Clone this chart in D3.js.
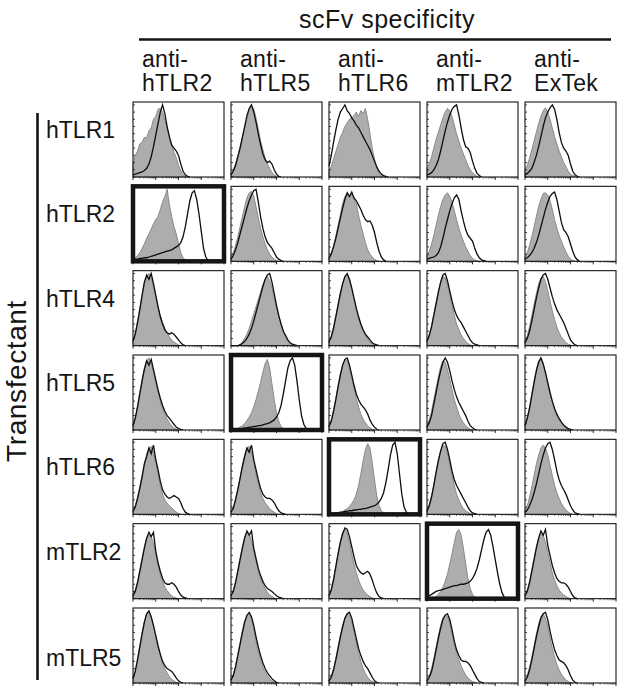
<!DOCTYPE html>
<html><head><meta charset="utf-8">
<script src="https://cdn.jsdelivr.net/npm/d3@7"></script>
<style>html,body{margin:0;padding:0;background:#fff;} svg{display:block;font-family:"Liberation Sans",Arial,Helvetica,sans-serif;}</style>
</head><body><svg id="c" width="624" height="694"></svg>
<script>
// ---------- labels ----------
const headerTitle = "scFv specificity";
const colLabels = ["hTLR2","hTLR5","hTLR6","mTLR2","ExTek"];
const rowLabels = ["hTLR1","hTLR2","hTLR4","hTLR5","hTLR6","mTLR2","mTLR5"];
const axisTitle = "Transfectant";
const highlighted = [["hTLR2","hTLR2"],["hTLR5","hTLR5"],["hTLR6","hTLR6"],["mTLR2","mTLR2"]]; // [transfectant, scFv]

// ---------- histogram heights (% of max), bin k = 10^(k/10) channel ----------
// row hTLR1
const g11=[18,30,36,46,48,55,54,64,68,80,84,94,95,90,78,68,54,46,34,27,16,9,3,1];
const b11=[3,4,5,6,7,9,12,18,28,42,58,74,90,100,88,70,56,44,40,36,30,18,8,3,1];
const g12=[5,10,18,30,42,55,68,80,92,98,95,82,66,50,38,26,18,12,6,3,1];
const b12=[3,8,16,28,40,55,70,85,95,100,90,76,60,45,32,24,20,22,18,10,4,1];
const g13=[8,15,25,35,45,55,62,70,75,80,82,85,90,84,92,88,95,80,60,40,25,12,5,2,1];
const b13=[15,30,48,65,80,90,95,100,92,88,82,78,72,68,62,56,50,44,38,30,22,14,8,4,2,1];
const g14=[12,18,28,40,52,62,72,82,90,95,92,84,72,60,50,40,32,24,16,10,6,3,1];
const b14=[3,4,6,10,16,24,36,50,64,76,86,94,98,100,86,68,52,42,40,34,22,12,5,2];
const g15=[10,16,26,38,50,62,74,84,92,96,90,80,68,56,46,36,28,20,14,8,4,2,1];
const b15=[3,5,8,12,20,30,42,56,70,82,90,96,100,94,80,62,48,40,36,30,18,8,3,1];
// row hTLR2
const g21=[3,5,8,12,18,24,32,38,45,52,58,62,72,82,90,100,78,62,48,38,25,12,5,2];
const b21=[2,3,3,4,4,5,5,6,7,8,9,10,11,12,13,14,15,16,18,20,22,26,34,48,66,84,95,98,86,66,42,18,6,1];
const g22=[6,12,22,34,48,62,76,88,95,97,90,76,60,46,34,24,16,10,6,3,1];
const b22=[3,8,16,26,38,50,62,74,84,92,98,100,82,62,46,34,26,22,18,12,6,3,1];
const g23=[5,12,22,35,50,65,80,90,94,88,95,86,80,64,50,38,26,16,10,6,3,1];
const b23=[4,10,20,32,46,60,74,86,95,90,96,88,84,78,72,64,58,55,56,50,40,26,14,6,2];
const g24=[8,14,24,36,50,64,76,86,92,95,90,82,70,58,46,36,28,20,14,8,4,2,1];
const b24=[3,4,5,6,8,12,20,32,46,58,70,80,88,92,86,70,56,44,36,32,28,18,10,5,2,1];
const g25=[6,12,22,34,48,62,76,86,94,95,92,84,72,58,46,36,28,20,13,7,3,1];
const b25=[3,5,8,12,18,26,36,48,60,72,82,90,94,96,86,70,54,44,40,34,24,14,6,2];
// row hTLR4
const g31=[8,18,34,52,70,86,96,100,94,82,68,54,42,32,24,17,12,8,5,3,1];
const b31=[6,16,32,50,70,88,98,92,100,86,70,54,40,30,22,18,16,18,16,12,8,4,1];
const g32=[0,0,0,0,2,5,10,16,24,34,44,54,64,74,84,92,96,90,80,66,52,40,30,20,12,6,3,1];
const b32=[0,0,0,0,1,3,6,10,16,24,34,46,58,70,82,92,98,100,88,72,56,42,30,20,14,8,4,2,1];
const g33=[6,14,26,42,58,74,86,96,98,90,78,64,50,38,28,20,14,9,5,3,1];
const b33=[5,12,24,40,56,72,86,96,100,92,80,66,52,40,30,22,16,12,8,4,2,1];
const g34=[8,16,28,44,60,76,88,96,94,84,70,56,42,30,22,15,10,6,3,1];
const b34=[6,14,26,42,58,74,88,98,100,90,76,62,50,42,36,32,26,20,14,8,4,2,1];
const g35=[6,14,26,42,58,72,86,94,96,88,76,62,48,36,26,18,12,8,4,2,1];
const b35=[4,10,20,34,50,66,80,92,98,100,92,80,68,58,50,44,38,32,24,16,8,4,1];
// row hTLR5
const g41=[8,18,34,52,70,86,96,100,92,80,66,52,40,30,22,15,10,6,3,1];
const b41=[6,16,32,50,68,84,96,90,98,84,70,56,44,34,26,20,16,12,8,4,2,1];
const g42=[0,0,1,2,4,6,9,13,18,24,32,42,54,66,80,92,98,86,64,42,24,12,5,2,1];
const b42=[0,0,1,1,2,2,3,3,4,4,5,5,6,6,7,8,9,10,12,14,18,24,34,50,68,86,96,100,90,68,42,20,8,2];
const g43=[6,14,28,44,62,78,90,98,96,86,72,58,44,32,22,15,10,6,3,1];
const b43=[5,12,26,42,60,76,90,98,100,90,76,62,50,42,36,32,28,22,14,8,4,1];
const g44=[6,14,26,42,58,74,88,96,94,84,70,56,42,32,22,15,10,6,3,1];
const b44=[4,10,20,36,52,68,82,94,100,94,82,68,56,46,38,32,26,20,12,6,3,1];
const g45=[8,18,32,50,68,84,96,98,90,78,64,50,38,28,20,14,9,5,3,1];
const b45=[6,16,30,48,66,82,94,100,92,80,66,52,40,30,22,16,11,7,4,2,1];
// row hTLR6
const g51=[5,12,24,38,54,70,84,92,94,86,72,56,40,28,20,15,12,9,6,3,1];
const b51=[4,10,22,36,52,70,80,92,84,96,76,62,46,34,28,24,22,24,26,24,22,16,8,3,1];
const g52=[4,10,22,36,52,68,82,92,94,86,72,56,42,30,22,16,12,8,5,3,1];
const b52=[3,8,20,34,50,66,80,92,86,96,76,62,48,36,28,24,22,22,20,16,10,5,2,1];
const g53=[0,0,0,1,2,3,4,6,8,11,15,20,28,40,56,74,90,98,92,72,48,26,12,5,2,1];
const b53=[0,1,1,2,2,3,3,4,4,5,5,6,6,7,7,8,8,9,10,11,12,14,17,22,30,44,62,82,96,100,84,56,28,10,3,1];
const g54=[6,14,26,42,60,76,88,96,94,84,70,54,40,28,20,13,8,5,3,1];
const b54=[4,12,24,40,58,74,88,98,100,90,76,60,48,40,34,28,22,16,10,5,2,1];
const g55=[5,12,24,38,54,70,82,92,96,92,82,68,54,40,30,22,15,10,6,3,1];
const b55=[3,6,12,20,30,42,56,70,82,92,98,100,90,76,60,48,40,34,28,20,12,6,2,1];
// row mTLR2
const g61=[5,12,24,40,56,72,84,88,86,76,62,46,34,24,16,11,7,4,2,1];
const b61=[4,10,22,38,54,70,84,92,86,92,66,50,38,28,22,20,20,22,20,16,10,5,2,1];
const g62=[5,12,24,40,56,72,86,92,90,80,66,52,38,28,20,14,9,5,3,1];
const b62=[4,10,22,38,54,70,84,94,88,94,70,56,42,32,24,18,14,12,10,7,4,2,1];
const g63=[5,14,28,46,64,80,92,96,90,78,62,48,36,26,18,12,8,5,3,1];
const b63=[4,12,26,44,62,78,90,98,96,86,72,58,46,40,36,34,36,38,34,26,16,8,3,1];
const g64=[0,0,0,1,3,6,10,16,24,34,48,62,78,92,96,88,70,48,28,14,6,2,1];
const b64=[2,4,6,8,10,11,12,13,14,15,16,17,18,18,19,20,20,21,22,24,28,34,42,54,68,82,92,96,88,72,54,36,20,8,2];
const g65=[5,12,24,40,56,72,84,90,88,78,64,50,36,26,18,12,8,5,3,1];
const b65=[4,10,22,38,54,70,84,94,88,96,74,60,46,36,28,24,22,22,20,16,10,4,1];
// row mTLR5
const g71=[8,18,34,52,70,86,96,98,90,78,64,50,38,28,20,14,9,5,3,1];
const b71=[6,16,32,50,68,84,96,100,92,80,66,52,40,30,24,20,18,16,12,7,3,1];
const g72=[5,12,24,40,56,72,86,94,96,88,74,58,44,32,22,15,10,6,3,1];
const b72=[4,10,22,38,54,70,84,94,98,92,80,64,50,38,28,20,14,10,6,3,1];
const g73=[4,10,20,34,50,66,80,90,96,94,84,70,56,42,30,20,13,8,4,2,1];
const b73=[3,8,18,32,48,64,78,90,96,98,90,76,62,48,38,30,24,20,14,8,3,1];
const g74=[4,10,20,34,50,66,80,90,94,92,82,68,54,42,32,24,17,11,7,4,2,1];
const b74=[3,8,16,30,46,62,76,88,94,96,88,74,58,46,38,32,30,30,28,24,18,12,6,2,1];
const g75=[4,10,22,36,52,68,82,92,96,90,78,62,48,36,26,18,12,8,4,2,1];
const b75=[3,8,18,32,48,64,78,90,96,98,88,72,58,46,38,32,30,28,24,18,10,4,1];

const grayTable=[[g11,g12,g13,g14,g15],[g21,g22,g23,g24,g25],[g31,g32,g33,g34,g35],[g41,g42,g43,g44,g45],[g51,g52,g53,g54,g55],[g61,g62,g63,g64,g65],[g71,g72,g73,g74,g75]];
const blackTable=[[b11,b12,b13,b14,b15],[b21,b22,b23,b24,b25],[b31,b32,b33,b34,b35],[b41,b42,b43,b44,b45],[b51,b52,b53,b54,b55],[b61,b62,b63,b64,b65],[b71,b72,b73,b74,b75]];

// ---------- drawing ----------
const svg=d3.select("#c");
const ink="#151515";

const colScale=d3.scaleBand().domain(colLabels).range([133,616]).paddingInner(0.0714);
const rowScale=d3.scaleBand().domain(rowLabels).range([102,683]).paddingInner(0.1107);
const bw=colScale.bandwidth(), bh=rowScale.bandwidth();

const x=d3.scaleLog().domain([1,1e4]).range([0,bw]);
const y=d3.scaleLinear().domain([0,104]).range([bh,0]);
const chan=k=>Math.pow(10,k/10);

const area=d3.area().x(d=>x(chan(d[0]))).y0(bh).y1(d=>y(d[1])).curve(d3.curveLinear);
const line=d3.line().x(d=>x(chan(d[0]))).y(d=>y(d[1])).curve(d3.curveLinear);
const toPts=arr=>{const p=arr.map((v,k)=>[k,v]); if(p.length<40) p.push([p.length,0]); return p;};

// header
svg.append("text").attr("x",387).attr("y",28).attr("text-anchor","middle")
  .attr("font-size",25).attr("letter-spacing",0.5).attr("fill",ink).text(headerTitle);
svg.append("line").attr("x1",139).attr("x2",611).attr("y1",39.5).attr("y2",39.5)
  .attr("stroke",ink).attr("stroke-width",2.6);

colLabels.forEach(c=>{
  const gx=colScale(c)+9;
  const t=svg.append("text").attr("font-size",23).attr("letter-spacing",0.3).attr("fill",ink);
  t.append("tspan").attr("x",gx).attr("y",67).text("anti-");
  t.append("tspan").attr("x",gx).attr("y",91).text(c);
});

// row labels
const rowLabelY=r=> r==="mTLR5" ? rowScale(r)+58 : rowScale(r)+36;
rowLabels.forEach(r=>{
  svg.append("text").attr("x",46).attr("y",rowLabelY(r)).attr("font-size",23)
    .attr("fill",ink).text(r);
});
svg.append("line").attr("x1",37.5).attr("x2",37.5).attr("y1",113).attr("y2",680)
  .attr("stroke",ink).attr("stroke-width",2.6);
svg.append("text").attr("transform","translate(26,381) rotate(-90)").attr("text-anchor","middle")
  .attr("font-size",28).attr("letter-spacing",0.6).attr("fill",ink).text(axisTitle);

// panels
const isHi=(r,c)=>highlighted.some(h=>h[0]===r&&h[1]===c);
const xTicksMajor=[1,10,100,1000,10000];
const xTicksMinor=x.ticks().filter(v=>!xTicksMajor.includes(v));
const yTicks=d3.range(0,105,10);

rowLabels.forEach((r,ri)=>{
  colLabels.forEach((c,ci)=>{
    const g=svg.append("g").attr("transform",`translate(${colScale(c)},${rowScale(r)})`);
    const gd=toPts(grayTable[ri][ci]), bd=toPts(blackTable[ri][ci]);
    g.append("path").attr("d",area(gd)).attr("fill","#adadad").attr("stroke","#8a8a8a").attr("stroke-width",1);
    g.append("path").attr("d",line(bd)).attr("fill","none").attr("stroke","#0d0d0d").attr("stroke-width",1.3);
    g.selectAll(".ty").data(yTicks).join("line").attr("x1",0).attr("x2",2)
      .attr("y1",d=>y(d)).attr("y2",d=>y(d)).attr("stroke",ink).attr("stroke-width",0.8);
    g.selectAll(".tx").data(xTicksMajor).join("line").attr("x1",d=>x(d)).attr("x2",d=>x(d))
      .attr("y1",bh).attr("y2",bh+3).attr("stroke",ink).attr("stroke-width",0.9);
    g.selectAll(".tm").data(xTicksMinor).join("line").attr("x1",d=>x(d)).attr("x2",d=>x(d))
      .attr("y1",bh).attr("y2",bh+1.6).attr("stroke",ink).attr("stroke-width",0.6);
    const hi=isHi(r,c);
    g.append("rect").attr("x",0).attr("y",0).attr("width",bw).attr("height",bh)
      .attr("fill","none").attr("stroke",ink).attr("stroke-width",hi?4.5:1.1);
  });
});
</script></body></html>
